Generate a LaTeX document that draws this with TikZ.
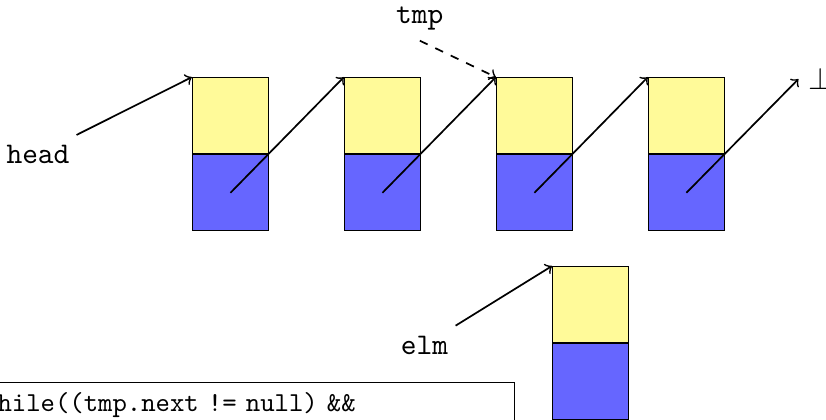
\documentclass[tikz,border=0pt]{standalone}
\usepackage{tikz}
\usetikzlibrary{positioning}
\tikzset{%
    keycell/.style={draw, fill=yellow!40, minimum size=0.936cm, inner sep=0pt},
    nextcell/.style={draw, fill=blue!60, minimum size=0.936cm, inner sep=0pt},
    pointer/.style={font=\fontsize{10.5}{12.6}\ttfamily},
    link/.style={->, semithick},
    codebox/.style={draw, font=\fontsize{9.6}{11.5}\ttfamily, text width=182.8pt,
        align=left, text depth=40pt}
}

\begin{document}
\begin{tikzpicture}[x=0.468cm, y=0.468cm]

    \useasboundingbox (0, 0) rectangle (21.74, 11.03);

    \foreach \i in {1, ..., 4}{%
        \node[keycell, anchor=north west] (key\i) at (1.05 + 4*\i, 9) {};
        \node[nextcell, below=0pt of key\i] (next\i) {};
    };

    \node[keycell, anchor=north west] (keyelm) at (14.53, 4.03) {};
    \node[nextcell, below=0pt of keyelm] (nextelm) {};

    \node[pointer] (head) at (1.0, 6.97) {head};
    \node[pointer] (tmp) at (11.05, 10.53) {tmp};
    \node[pointer] (elm) at (11.17, 1.95) {elm};
    \node[font=\fontsize{10.5}{12.6}\selectfont] (nil) at (21.6, 8.95) {$\bot$};

    \node[codebox, anchor=north east] (loop) at (13.55, 0.97)
        {while((tmp.next != null) \&\&};

    \draw[link] (head) -- (key1.north west);
    \draw[link, dashed] (tmp.south) -- (key3.north west);
    \draw[link] (elm) -- (keyelm.north west);

    \foreach \i/\j in {1/2, 2/3, 3/4}{%
        \draw[link] (next\i.center) -- (key\j.north west);
    };
    \draw[link] (next4.center) -- (nil.west);

\end{tikzpicture}
\end{document}
